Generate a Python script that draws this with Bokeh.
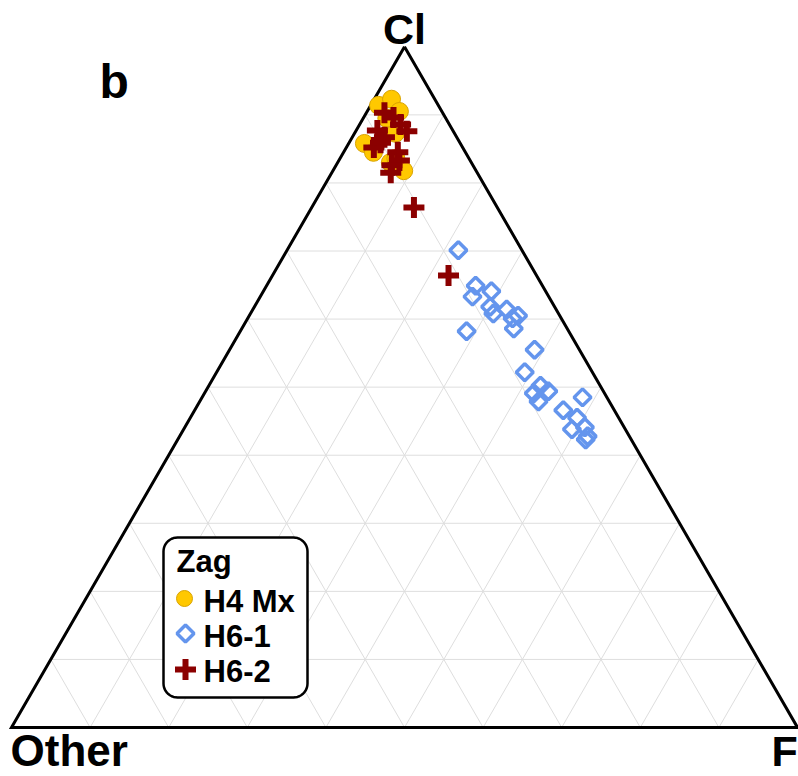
import numpy as np
from bokeh.plotting import figure
from bokeh.models import Range1d
from bokeh.core.properties import value
from bokeh.embed import file_html
from bokeh.resources import INLINE

# ---------------- data (percent Cl, percent F; Other = 100 - Cl - F) ----------------
APEX_LABELS = ["Cl", "Other", "F"]
GRID_TICKS = [10, 20, 30, 40, 50, 60, 70, 80, 90]
SERIES_NAMES = ["H4 Mx", "H6-1", "H6-2"]
LEGEND_TITLE = "Zag"
PANEL_LABEL = "b"

H4_CL = [91.4, 92.3, 90.5, 85.8, 84.5, 83.0, 81.8, 87.3, 89.5, 83.6]
H4_F = [1.0, 2.2, 4.1, 2.0, 3.8, 6.7, 9.0, 5.2, 3.0, 7.1]

H61_CL = [70.1, 64.9, 64.1, 63.3, 61.8, 60.8, 61.4, 60.5, 60.1, 58.6, 58.2, 55.5,
          52.2, 50.2, 49.4, 49.1, 47.9, 48.5, 46.6, 45.5, 43.8, 44.1, 42.8, 42.3]
H61_F = [21.8, 26.6, 29.0, 27.0, 30.0, 30.9, 32.3, 34.2, 33.7, 34.6, 28.8, 38.8,
         39.2, 42.2, 43.6, 41.9, 43.1, 48.4, 46.9, 49.2, 49.4, 50.9, 51.9, 51.9]

H62_CL = [90.3, 89.6, 88.6, 87.6, 87.7, 86.7, 85.2, 85.9, 84.5, 83.3, 82.6, 81.5, 76.4, 66.4]
H62_F = [2.3, 3.8, 5.2, 6.5, 2.7, 4.1, 3.5, 4.0, 6.9, 7.7, 7.1, 7.5, 13.0, 22.4]

# ---------------- helpers ----------------
SQ3 = np.sqrt(3) / 2


def tern(cl, f):
    cl = np.asarray(cl, dtype=float) / 100.0
    f = np.asarray(f, dtype=float) / 100.0
    return f + cl / 2.0, cl * SQ3


# canvas-pixel layout: Other vertex at (11, 727), 786 px per unit
OX, OY, S = 11.0, 727.0, 786.0


def dx(px):
    return (px - OX) / S


def dy(py):
    return (OY - py) / S


W, H = 798, 776
p = figure(width=W, height=H, output_backend="svg", toolbar_location=None,
           x_axis_type=None, y_axis_type=None, title=None,
           x_range=Range1d(dx(0), dx(W)), y_range=Range1d(dy(H), dy(0)),
           min_border=0, min_border_left=0, min_border_right=0,
           min_border_top=0, min_border_bottom=0,
           outline_line_color=None, background_fill_color="white",
           border_fill_color="white")
p.grid.visible = False

# ---------------- grid ----------------
gx, gy = [], []
for t in GRID_TICKS:
    x, y = tern([t, t], [0, 100 - t])          # constant Cl
    gx.append(list(x)); gy.append(list(y))
    x, y = tern([0, 100 - t], [t, t])          # constant F
    gx.append(list(x)); gy.append(list(y))
    x, y = tern([0, 100 - t], [100 - t, 0])    # constant Other
    gx.append(list(x)); gy.append(list(y))
p.multi_line(gx, gy, line_color="#dedede", line_width=1)

# ---------------- triangle ----------------
tx, ty = tern([100, 0, 0, 100], [0, 0, 100, 0])
p.line(list(tx), list(ty), line_color="black", line_width=3, line_join="miter")

# ---------------- data ----------------
FONT = value("Liberation Sans")
x4, y4 = tern(H4_CL, H4_F)
p.scatter(x4, y4, marker="circle", size=18, fill_color="#FFC800",
          line_color="#D9A300", line_width=1)
x61, y61 = tern(H61_CL, H61_F)
p.scatter(x61, y61, marker="square", angle=np.pi / 4, size=12, fill_color=None,
          line_color="#6495ED", line_width=3.5)
x62, y62 = tern(H62_CL, H62_F)
p.scatter(x62, y62, marker="cross", size=21, line_color="#8B0000", line_width=6)

# ---------------- vertex labels ----------------
vx, vy = tern([100, 0, 0], [0, 0, 100])
p.text(x=[vx[0]], y=[vy[0]], text=[APEX_LABELS[0]], text_font=FONT,
       text_font_style="bold", text_font_size="43px", text_align="center",
       text_baseline="alphabetic", y_offset=-18, text_color="black")
p.text(x=[vx[1]], y=[vy[1]], text=[APEX_LABELS[1]], text_font=FONT,
       text_font_style="bold", text_font_size="44px", text_align="left",
       text_baseline="alphabetic", x_offset=-1, y_offset=23, text_color="black")
p.text(x=[vx[2]], y=[vy[2]], text=[APEX_LABELS[2]], text_font=FONT,
       text_font_style="bold", text_font_size="43px", text_align="left",
       text_baseline="alphabetic", x_offset=-26, y_offset=23, text_color="black")

# panel label
p.text(x=[dx(99)], y=[dy(99)], text=[PANEL_LABEL], text_font=FONT,
       text_font_style="bold", text_font_size="48px", text_align="left",
       text_baseline="alphabetic", y_offset=-18, text_color="black")

# ---------------- legend (drawn manually, rounded box) ----------------
L, T, R, B, RAD = 163.0, 537.0, 307.0, 697.0, 14.0
pts = []
corners = [(R - RAD, T + RAD, -90, 0), (R - RAD, B - RAD, 0, 90),
           (L + RAD, B - RAD, 90, 180), (L + RAD, T + RAD, 180, 270)]
for cx, cy, a0, a1 in corners:
    for a in np.linspace(np.radians(a0), np.radians(a1), 12):
        pts.append((cx + RAD * np.cos(a), cy + RAD * np.sin(a)))
bx = [dx(px) for px, _ in pts]
by = [dy(py) for _, py in pts]
p.patch(bx, by, fill_color="white", line_color="black", line_width=2.5,
        line_join="round")

p.text(x=[dx(176)], y=[dy(572)], text=[LEGEND_TITLE], text_font=FONT,
       text_font_style="bold", text_font_size="31px", text_align="left",
       text_baseline="alphabetic", y_offset=-11, text_color="black")
label_base = [612, 647, 682]
glyph_cy = [598, 633, 669]
p.text(x=[dx(203)] * 3, y=[dy(v) for v in label_base], text=SERIES_NAMES,
       text_font=FONT, text_font_style="bold", text_font_size="31px",
       text_align="left", text_baseline="alphabetic", y_offset=-11,
       text_color="black")
p.scatter([dx(184)], [dy(glyph_cy[0])], marker="circle", size=16,
          fill_color="#FFC800", line_color="#D9A300", line_width=1)
p.scatter([dx(185)], [dy(glyph_cy[1])], marker="square", angle=np.pi / 4, size=12,
          fill_color=None, line_color="#6495ED", line_width=3.5)
p.scatter([dx(185)], [dy(glyph_cy[2])], marker="cross", size=21,
          line_color="#8B0000", line_width=6)

open("out.html", "w").write(file_html(p, INLINE))
